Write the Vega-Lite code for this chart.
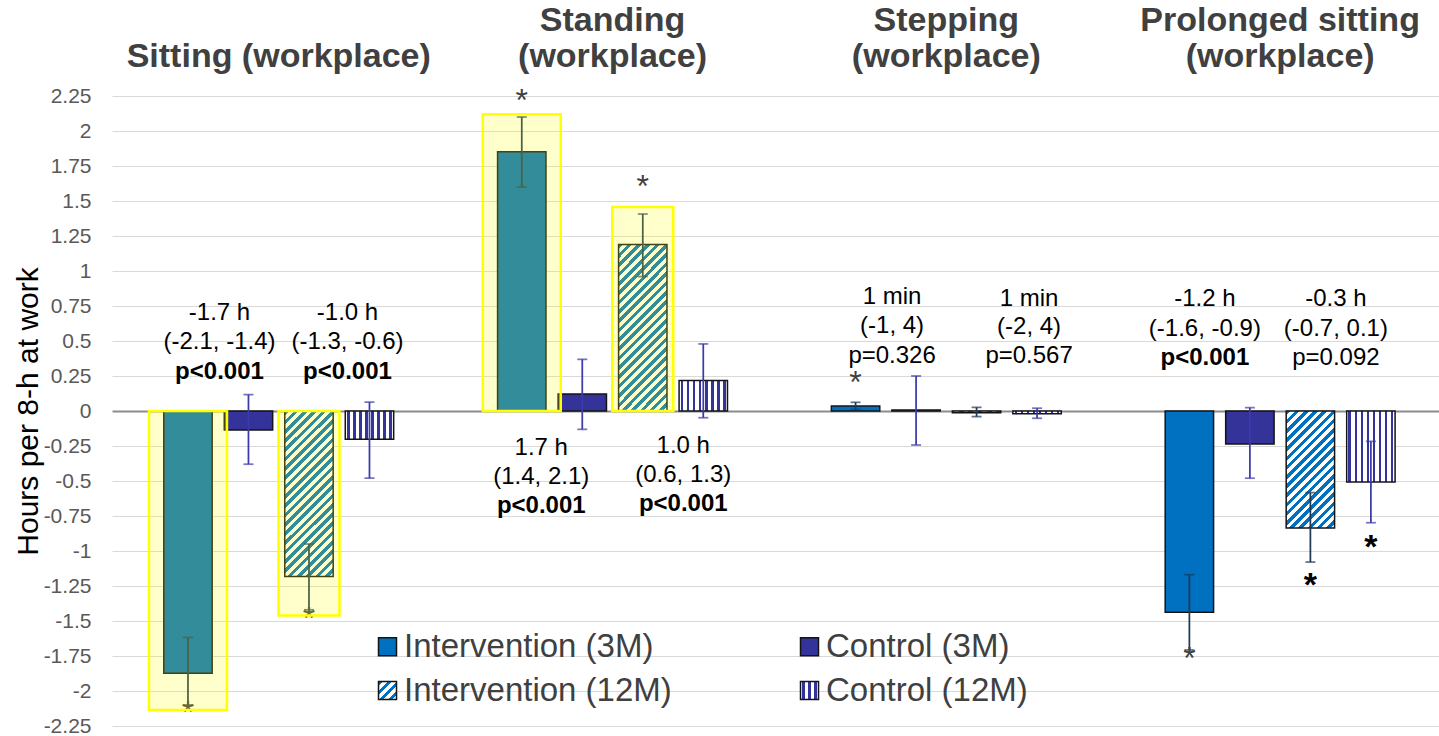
{
  "$schema": "https://vega.github.io/schema/vega-lite/v6.json",
  "autosize": "none",
  "width": 1327,
  "height": 630,
  "padding": {"left": 112, "top": 96, "right": 0, "bottom": 10},
  "config": {
    "font": "Liberation Sans",
    "view": {"stroke": null},
    "axis": {"domain": false, "ticks": false, "tickSize": 0}
  },
  "datasets": {
    "bars": [
      {"group": "Sitting (workplace)", "series": "Intervention (3M)", "value": -1.874, "lo": -2.1, "hi": -1.617, "star": -2.093, "hl": -2.136},
      {"group": "Sitting (workplace)", "series": "Control (3M)", "value": -0.136, "lo": -0.38, "hi": 0.117},
      {"group": "Sitting (workplace)", "series": "Intervention (12M)", "value": -1.183, "lo": -1.42, "hi": -0.95, "star": -1.421, "hl": -1.46},
      {"group": "Sitting (workplace)", "series": "Control (12M)", "value": -0.202, "lo": -0.48, "hi": 0.064},
      {"group": "Standing (workplace)", "series": "Intervention (3M)", "value": 1.852, "lo": 1.6, "hi": 2.1, "star": 2.281, "hl": 2.12},
      {"group": "Standing (workplace)", "series": "Control (3M)", "value": 0.121, "lo": -0.131, "hi": 0.369},
      {"group": "Standing (workplace)", "series": "Intervention (12M)", "value": 1.19, "lo": 0.96, "hi": 1.407, "star": 1.662, "hl": 1.457},
      {"group": "Standing (workplace)", "series": "Control (12M)", "value": 0.217, "lo": -0.048, "hi": 0.479},
      {"group": "Stepping (workplace)", "series": "Intervention (3M)", "value": 0.036, "lo": 0.01, "hi": 0.062, "star": 0.264},
      {"group": "Stepping (workplace)", "series": "Control (3M)", "value": 0.007, "lo": -0.243, "hi": 0.25},
      {"group": "Stepping (workplace)", "series": "Intervention (12M)", "value": -0.012, "lo": -0.04, "hi": 0.026},
      {"group": "Stepping (workplace)", "series": "Control (12M)", "value": -0.019, "lo": -0.052, "hi": 0.02},
      {"group": "Prolonged sitting (workplace)", "series": "Intervention (3M)", "value": -1.438, "lo": -1.707, "hi": -1.169, "star": -1.707},
      {"group": "Prolonged sitting (workplace)", "series": "Control (3M)", "value": -0.236, "lo": -0.48, "hi": 0.024},
      {"group": "Prolonged sitting (workplace)", "series": "Intervention (12M)", "value": -0.836, "lo": -1.079, "hi": -0.583, "star": -1.176},
      {"group": "Prolonged sitting (workplace)", "series": "Control (12M)", "value": -0.507, "lo": -0.798, "hi": -0.217, "star": -0.909}
    ],
    "notes": [
      {"group": "Sitting (workplace)", "series": "Control (3M)", "text": "-1.7 h", "ty": 0.65},
      {"group": "Sitting (workplace)", "series": "Control (3M)", "text": "(-2.1, -1.4)", "ty": 0.443},
      {"group": "Sitting (workplace)", "series": "Control (3M)", "text": "p<0.001", "ty": 0.229},
      {"group": "Sitting (workplace)", "series": "Control (12M)", "text": "-1.0 h", "ty": 0.647},
      {"group": "Sitting (workplace)", "series": "Control (12M)", "text": "(-1.3, -0.6)", "ty": 0.44},
      {"group": "Sitting (workplace)", "series": "Control (12M)", "text": "p<0.001", "ty": 0.226},
      {"group": "Standing (workplace)", "series": "Control (3M)", "text": "1.7 h", "ty": -0.314},
      {"group": "Standing (workplace)", "series": "Control (3M)", "text": "(1.4, 2.1)", "ty": -0.521},
      {"group": "Standing (workplace)", "series": "Control (3M)", "text": "p<0.001", "ty": -0.726},
      {"group": "Standing (workplace)", "series": "Control (12M)", "text": "1.0 h", "ty": -0.298},
      {"group": "Standing (workplace)", "series": "Control (12M)", "text": "(0.6, 1.3)", "ty": -0.505},
      {"group": "Standing (workplace)", "series": "Control (12M)", "text": "p<0.001", "ty": -0.712},
      {"group": "Stepping (workplace)", "series": "Control (3M)", "text": "1 min", "ty": 0.764},
      {"group": "Stepping (workplace)", "series": "Control (3M)", "text": "(-1, 4)", "ty": 0.555},
      {"group": "Stepping (workplace)", "series": "Control (3M)", "text": "p=0.326", "ty": 0.345},
      {"group": "Stepping (workplace)", "series": "Control (12M)", "text": "1 min", "ty": 0.75},
      {"group": "Stepping (workplace)", "series": "Control (12M)", "text": "(-2, 4)", "ty": 0.55},
      {"group": "Stepping (workplace)", "series": "Control (12M)", "text": "p=0.567", "ty": 0.34},
      {"group": "Prolonged sitting (workplace)", "series": "Control (3M)", "text": "-1.2 h", "ty": 0.75},
      {"group": "Prolonged sitting (workplace)", "series": "Control (3M)", "text": "(-1.6, -0.9)", "ty": 0.536},
      {"group": "Prolonged sitting (workplace)", "series": "Control (3M)", "text": "p<0.001", "ty": 0.329},
      {"group": "Prolonged sitting (workplace)", "series": "Control (12M)", "text": "-0.3 h", "ty": 0.75},
      {"group": "Prolonged sitting (workplace)", "series": "Control (12M)", "text": "(-0.7, 0.1)", "ty": 0.536},
      {"group": "Prolonged sitting (workplace)", "series": "Control (12M)", "text": "p=0.092", "ty": 0.329}
    ]
  },
  "data": {"name": "bars"},
  "encoding": {
    "x": {
      "field": "group",
      "type": "nominal",
      "sort": ["Sitting (workplace)", "Standing (workplace)", "Stepping (workplace)", "Prolonged sitting (workplace)"],
      "scale": {"paddingInner": 0.275, "paddingOuter": 0.1252, "align": 0.547},
      "axis": {
        "orient": "top",
        "title": null,
        "labelFontSize": 34,
        "labelFontWeight": "bold",
        "labelColor": "#404040",
        "labelPadding": 93,
        "labelBaseline": "top",
        "labelLineHeight": 36,
        "labelLimit": 0,
        "labelAngle": 0,
        "labelExpr": "indexof(datum.value, 'Sitting (') === 0 ? ['', datum.value] : split(replace(datum.value, ' (', '|('), '|')",
        "grid": false,
        "domain": false,
        "ticks": false
      }
    },
    "xOffset": {
      "field": "series",
      "type": "nominal",
      "sort": ["Intervention (3M)", "Control (3M)", "Intervention (12M)", "Control (12M)"],
      "scale": {"paddingInner": 0.2, "paddingOuter": 0.1}
    }
  },
  "layer": [
    {
      "mark": {"type": "bar", "stroke": "#141414", "strokeWidth": 1.5},
      "encoding": {
        "y": {
          "field": "value",
          "type": "quantitative",
          "title": "Hours  per 8-h at work",
          "scale": {"domain": [-2.25, 2.25], "nice": false, "zero": false},
          "axis": {
            "values": [-2.25, -2, -1.75, -1.5, -1.25, -1, -0.75, -0.5, -0.25, 0, 0.25, 0.5, 0.75, 1, 1.25, 1.5, 1.75, 2, 2.25],
            "tickCount": 19,
            "labelExpr": "'' + datum.value",
            "labelFontSize": 21,
            "labelColor": "#595959",
            "labelPadding": 21,
            "labelFlush": false,
            "labelOverlap": false,
            "gridColor": {"condition": {"test": "datum.value === 0", "value": "#8C8C8C"}, "value": "#D9D9D9"},
            "gridWidth": {"condition": {"test": "datum.value === 0", "value": 2}, "value": 1},
            "titleFontSize": 30,
            "titleFontWeight": "normal",
            "titleColor": "#000000",
            "titleAngle": -90,
            "titleAlign": "center",
            "titleBaseline": "alphabetic",
            "titleX": -75,
            "titleY": 315
          }
        },
        "y2": {"datum": 0},
        "fill": {
          "field": "series",
          "type": "nominal",
          "scale": {
            "domain": ["Intervention (3M)", "Control (3M)", "Intervention (12M)", "Control (12M)"],
            "range": [
              "#0070C0",
              "#333399",
              {"expr": "{gradient: 'linear', x1: 0, y1: 0, x2: 1, y2: 1, stops: [{offset: 0, color: '#0070C0'}, {offset: 0.125, color: '#0070C0'}, {offset: 0.125, color: '#fff'}, {offset: 0.25, color: '#fff'}, {offset: 0.25, color: '#0070C0'}, {offset: 0.375, color: '#0070C0'}, {offset: 0.375, color: '#fff'}, {offset: 0.5, color: '#fff'}, {offset: 0.5, color: '#0070C0'}, {offset: 0.625, color: '#0070C0'}, {offset: 0.625, color: '#fff'}, {offset: 0.75, color: '#fff'}, {offset: 0.75, color: '#0070C0'}, {offset: 0.875, color: '#0070C0'}, {offset: 0.875, color: '#fff'}, {offset: 1, color: '#fff'}]}"},
              {"expr": "{gradient: 'linear', x1: 0, y1: 0, x2: 1, y2: 0, stops: [{offset: 0, color: '#fff'}, {offset: 0.1, color: '#fff'}, {offset: 0.1, color: '#333399'}, {offset: 0.2333, color: '#333399'}, {offset: 0.2333, color: '#fff'}, {offset: 0.4333, color: '#fff'}, {offset: 0.4333, color: '#333399'}, {offset: 0.5667, color: '#333399'}, {offset: 0.5667, color: '#fff'}, {offset: 0.7667, color: '#fff'}, {offset: 0.7667, color: '#333399'}, {offset: 0.9, color: '#333399'}, {offset: 0.9, color: '#fff'}, {offset: 1, color: '#fff'}]}"}
            ]
          },
          "condition": [
            {
              "test": "datum.series === 'Intervention (12M)' && datum.group === 'Prolonged sitting (workplace)'",
              "value": {
                "gradient": "linear", "x1": 0, "y1": 0, "x2": 0.4994, "y2": 1.2072,
                "stops": [
                  {"offset": 0, "color": "#0070C0"}, {"offset": 0.0278, "color": "#0070C0"}, {"offset": 0.0278, "color": "#fff"}, {"offset": 0.0556, "color": "#fff"},
                  {"offset": 0.0556, "color": "#0070C0"}, {"offset": 0.0833, "color": "#0070C0"}, {"offset": 0.0833, "color": "#fff"}, {"offset": 0.1111, "color": "#fff"},
                  {"offset": 0.1111, "color": "#0070C0"}, {"offset": 0.1389, "color": "#0070C0"}, {"offset": 0.1389, "color": "#fff"}, {"offset": 0.1667, "color": "#fff"},
                  {"offset": 0.1667, "color": "#0070C0"}, {"offset": 0.1944, "color": "#0070C0"}, {"offset": 0.1944, "color": "#fff"}, {"offset": 0.2222, "color": "#fff"},
                  {"offset": 0.2222, "color": "#0070C0"}, {"offset": 0.25, "color": "#0070C0"}, {"offset": 0.25, "color": "#fff"}, {"offset": 0.2778, "color": "#fff"},
                  {"offset": 0.2778, "color": "#0070C0"}, {"offset": 0.3056, "color": "#0070C0"}, {"offset": 0.3056, "color": "#fff"}, {"offset": 0.3333, "color": "#fff"},
                  {"offset": 0.3333, "color": "#0070C0"}, {"offset": 0.3611, "color": "#0070C0"}, {"offset": 0.3611, "color": "#fff"}, {"offset": 0.3889, "color": "#fff"},
                  {"offset": 0.3889, "color": "#0070C0"}, {"offset": 0.4167, "color": "#0070C0"}, {"offset": 0.4167, "color": "#fff"}, {"offset": 0.4444, "color": "#fff"},
                  {"offset": 0.4444, "color": "#0070C0"}, {"offset": 0.4722, "color": "#0070C0"}, {"offset": 0.4722, "color": "#fff"}, {"offset": 0.5, "color": "#fff"},
                  {"offset": 0.5, "color": "#0070C0"}, {"offset": 0.5278, "color": "#0070C0"}, {"offset": 0.5278, "color": "#fff"}, {"offset": 0.5556, "color": "#fff"},
                  {"offset": 0.5556, "color": "#0070C0"}, {"offset": 0.5833, "color": "#0070C0"}, {"offset": 0.5833, "color": "#fff"}, {"offset": 0.6111, "color": "#fff"},
                  {"offset": 0.6111, "color": "#0070C0"}, {"offset": 0.6389, "color": "#0070C0"}, {"offset": 0.6389, "color": "#fff"}, {"offset": 0.6667, "color": "#fff"},
                  {"offset": 0.6667, "color": "#0070C0"}, {"offset": 0.6944, "color": "#0070C0"}, {"offset": 0.6944, "color": "#fff"}, {"offset": 0.7222, "color": "#fff"},
                  {"offset": 0.7222, "color": "#0070C0"}, {"offset": 0.75, "color": "#0070C0"}, {"offset": 0.75, "color": "#fff"}, {"offset": 0.7778, "color": "#fff"},
                  {"offset": 0.7778, "color": "#0070C0"}, {"offset": 0.8056, "color": "#0070C0"}, {"offset": 0.8056, "color": "#fff"}, {"offset": 0.8333, "color": "#fff"},
                  {"offset": 0.8333, "color": "#0070C0"}, {"offset": 0.8611, "color": "#0070C0"}, {"offset": 0.8611, "color": "#fff"}, {"offset": 0.8889, "color": "#fff"},
                  {"offset": 0.8889, "color": "#0070C0"}, {"offset": 0.9167, "color": "#0070C0"}, {"offset": 0.9167, "color": "#fff"}, {"offset": 0.9444, "color": "#fff"},
                  {"offset": 0.9444, "color": "#0070C0"}, {"offset": 0.9722, "color": "#0070C0"}, {"offset": 0.9722, "color": "#fff"}, {"offset": 1, "color": "#fff"}
                ]
              }
            },
            {
              "test": "datum.series === 'Intervention (12M)'",
              "value": {
                "gradient": "linear", "x1": 0, "y1": 0, "x2": 0.3471, "y2": 1.1904,
                "stops": [
                  {"offset": 0, "color": "#0070C0"}, {"offset": 0.0217, "color": "#0070C0"}, {"offset": 0.0217, "color": "#fff"}, {"offset": 0.0435, "color": "#fff"},
                  {"offset": 0.0435, "color": "#0070C0"}, {"offset": 0.0652, "color": "#0070C0"}, {"offset": 0.0652, "color": "#fff"}, {"offset": 0.087, "color": "#fff"},
                  {"offset": 0.087, "color": "#0070C0"}, {"offset": 0.1087, "color": "#0070C0"}, {"offset": 0.1087, "color": "#fff"}, {"offset": 0.1304, "color": "#fff"},
                  {"offset": 0.1304, "color": "#0070C0"}, {"offset": 0.1522, "color": "#0070C0"}, {"offset": 0.1522, "color": "#fff"}, {"offset": 0.1739, "color": "#fff"},
                  {"offset": 0.1739, "color": "#0070C0"}, {"offset": 0.1957, "color": "#0070C0"}, {"offset": 0.1957, "color": "#fff"}, {"offset": 0.2174, "color": "#fff"},
                  {"offset": 0.2174, "color": "#0070C0"}, {"offset": 0.2391, "color": "#0070C0"}, {"offset": 0.2391, "color": "#fff"}, {"offset": 0.2609, "color": "#fff"},
                  {"offset": 0.2609, "color": "#0070C0"}, {"offset": 0.2826, "color": "#0070C0"}, {"offset": 0.2826, "color": "#fff"}, {"offset": 0.3043, "color": "#fff"},
                  {"offset": 0.3043, "color": "#0070C0"}, {"offset": 0.3261, "color": "#0070C0"}, {"offset": 0.3261, "color": "#fff"}, {"offset": 0.3478, "color": "#fff"},
                  {"offset": 0.3478, "color": "#0070C0"}, {"offset": 0.3696, "color": "#0070C0"}, {"offset": 0.3696, "color": "#fff"}, {"offset": 0.3913, "color": "#fff"},
                  {"offset": 0.3913, "color": "#0070C0"}, {"offset": 0.413, "color": "#0070C0"}, {"offset": 0.413, "color": "#fff"}, {"offset": 0.4348, "color": "#fff"},
                  {"offset": 0.4348, "color": "#0070C0"}, {"offset": 0.4565, "color": "#0070C0"}, {"offset": 0.4565, "color": "#fff"}, {"offset": 0.4783, "color": "#fff"},
                  {"offset": 0.4783, "color": "#0070C0"}, {"offset": 0.5, "color": "#0070C0"}, {"offset": 0.5, "color": "#fff"}, {"offset": 0.5217, "color": "#fff"},
                  {"offset": 0.5217, "color": "#0070C0"}, {"offset": 0.5435, "color": "#0070C0"}, {"offset": 0.5435, "color": "#fff"}, {"offset": 0.5652, "color": "#fff"},
                  {"offset": 0.5652, "color": "#0070C0"}, {"offset": 0.587, "color": "#0070C0"}, {"offset": 0.587, "color": "#fff"}, {"offset": 0.6087, "color": "#fff"},
                  {"offset": 0.6087, "color": "#0070C0"}, {"offset": 0.6304, "color": "#0070C0"}, {"offset": 0.6304, "color": "#fff"}, {"offset": 0.6522, "color": "#fff"},
                  {"offset": 0.6522, "color": "#0070C0"}, {"offset": 0.6739, "color": "#0070C0"}, {"offset": 0.6739, "color": "#fff"}, {"offset": 0.6957, "color": "#fff"},
                  {"offset": 0.6957, "color": "#0070C0"}, {"offset": 0.7174, "color": "#0070C0"}, {"offset": 0.7174, "color": "#fff"}, {"offset": 0.7391, "color": "#fff"},
                  {"offset": 0.7391, "color": "#0070C0"}, {"offset": 0.7609, "color": "#0070C0"}, {"offset": 0.7609, "color": "#fff"}, {"offset": 0.7826, "color": "#fff"},
                  {"offset": 0.7826, "color": "#0070C0"}, {"offset": 0.8043, "color": "#0070C0"}, {"offset": 0.8043, "color": "#fff"}, {"offset": 0.8261, "color": "#fff"},
                  {"offset": 0.8261, "color": "#0070C0"}, {"offset": 0.8478, "color": "#0070C0"}, {"offset": 0.8478, "color": "#fff"}, {"offset": 0.8696, "color": "#fff"},
                  {"offset": 0.8696, "color": "#0070C0"}, {"offset": 0.8913, "color": "#0070C0"}, {"offset": 0.8913, "color": "#fff"}, {"offset": 0.913, "color": "#fff"},
                  {"offset": 0.913, "color": "#0070C0"}, {"offset": 0.9348, "color": "#0070C0"}, {"offset": 0.9348, "color": "#fff"}, {"offset": 0.9565, "color": "#fff"},
                  {"offset": 0.9565, "color": "#0070C0"}, {"offset": 0.9783, "color": "#0070C0"}, {"offset": 0.9783, "color": "#fff"}, {"offset": 1, "color": "#fff"}
                ]
              }
            },
            {
              "test": "datum.series === 'Control (12M)'",
              "value": {
                "gradient": "linear", "x1": 0, "y1": 0, "x2": 1, "y2": 0,
                "stops": [
                  {"offset": 0, "color": "#fff"},
                  {"offset": 0.0375, "color": "#fff"}, {"offset": 0.0375, "color": "#333399"}, {"offset": 0.0875, "color": "#333399"}, {"offset": 0.0875, "color": "#fff"},
                  {"offset": 0.1625, "color": "#fff"}, {"offset": 0.1625, "color": "#333399"}, {"offset": 0.2125, "color": "#333399"}, {"offset": 0.2125, "color": "#fff"},
                  {"offset": 0.2875, "color": "#fff"}, {"offset": 0.2875, "color": "#333399"}, {"offset": 0.3375, "color": "#333399"}, {"offset": 0.3375, "color": "#fff"},
                  {"offset": 0.4125, "color": "#fff"}, {"offset": 0.4125, "color": "#333399"}, {"offset": 0.4625, "color": "#333399"}, {"offset": 0.4625, "color": "#fff"},
                  {"offset": 0.5375, "color": "#fff"}, {"offset": 0.5375, "color": "#333399"}, {"offset": 0.5875, "color": "#333399"}, {"offset": 0.5875, "color": "#fff"},
                  {"offset": 0.6625, "color": "#fff"}, {"offset": 0.6625, "color": "#333399"}, {"offset": 0.7125, "color": "#333399"}, {"offset": 0.7125, "color": "#fff"},
                  {"offset": 0.7875, "color": "#fff"}, {"offset": 0.7875, "color": "#333399"}, {"offset": 0.8375, "color": "#333399"}, {"offset": 0.8375, "color": "#fff"},
                  {"offset": 0.9125, "color": "#fff"}, {"offset": 0.9125, "color": "#333399"}, {"offset": 0.9625, "color": "#333399"}, {"offset": 0.9625, "color": "#fff"},
                  {"offset": 1, "color": "#fff"}
                ]
              }
            }
          ],
          "legend": {
            "title": null,
            "orient": "none",
            "legendX": 259,
            "legendY": 534,
            "direction": "horizontal",
            "columns": 2,
            "columnPadding": 121,
            "rowPadding": 10,
            "padding": 0,
            "symbolType": "square",
            "symbolSize": 324,
            "symbolStrokeColor": "#141414",
            "symbolStrokeWidth": 1.5,
            "labelFontSize": 33,
            "labelColor": "#404040",
            "labelOffset": 0,
            "labelLimit": 0
          }
        }
      }
    },
    {
      "mark": {"type": "rule", "strokeWidth": 1.75},
      "encoding": {
        "y": {"field": "lo", "type": "quantitative", "title": "Hours  per 8-h at work", "scale": {"domain": [-2.25, 2.25], "nice": false, "zero": false}},
        "y2": {"field": "hi"},
        "color": {"condition": {"test": "indexof(datum.series, 'Control') === 0", "value": "#3B3BAA"}, "value": "#203A56"}
      }
    },
    {
      "mark": {"type": "tick", "orient": "horizontal", "size": 10, "thickness": 1.75},
      "encoding": {
        "y": {"field": "lo", "type": "quantitative", "title": "Hours  per 8-h at work", "scale": {"domain": [-2.25, 2.25], "nice": false, "zero": false}},
        "color": {"condition": {"test": "indexof(datum.series, 'Control') === 0", "value": "#3B3BAA"}, "value": "#203A56"}
      }
    },
    {
      "mark": {"type": "tick", "orient": "horizontal", "size": 10, "thickness": 1.75},
      "encoding": {
        "y": {"field": "hi", "type": "quantitative", "title": "Hours  per 8-h at work", "scale": {"domain": [-2.25, 2.25], "nice": false, "zero": false}},
        "color": {"condition": {"test": "indexof(datum.series, 'Control') === 0", "value": "#3B3BAA"}, "value": "#203A56"}
      }
    },
    {
      "transform": [{"filter": "datum.star != null && !(datum.group === 'Prolonged sitting (workplace)' && indexof(datum.series, '12M') >= 0)"}],
      "mark": {"type": "text", "fontSize": 32, "color": "#404040", "baseline": "alphabetic", "align": "center", "dy": 19},
      "encoding": {
        "y": {"field": "star", "type": "quantitative", "title": "Hours  per 8-h at work", "scale": {"domain": [-2.25, 2.25], "nice": false, "zero": false}},
        "text": {"value": "*"}
      }
    },
    {
      "transform": [{"filter": "datum.star != null && datum.group === 'Prolonged sitting (workplace)' && indexof(datum.series, '12M') >= 0"}],
      "mark": {"type": "text", "fontSize": 34, "fontWeight": "bold", "color": "#000000", "baseline": "alphabetic", "align": "center", "dy": 20},
      "encoding": {
        "y": {"field": "star", "type": "quantitative", "title": "Hours  per 8-h at work", "scale": {"domain": [-2.25, 2.25], "nice": false, "zero": false}},
        "text": {"value": "*"}
      }
    },
    {
      "transform": [{"filter": "datum.hl != null && datum.series === 'Intervention (3M)'"}],
      "mark": {"type": "bar", "width": 78, "fill": "#FFFF00", "fillOpacity": 0.2, "stroke": "#FFFF00", "strokeWidth": 2.5},
      "encoding": {
        "y": {"field": "hl", "type": "quantitative", "title": "Hours  per 8-h at work", "scale": {"domain": [-2.25, 2.25], "nice": false, "zero": false}},
        "y2": {"datum": 0}
      }
    },
    {
      "transform": [{"filter": "datum.hl != null && datum.series === 'Intervention (12M)'"}],
      "mark": {"type": "bar", "width": 61, "fill": "#FFFF00", "fillOpacity": 0.2, "stroke": "#FFFF00", "strokeWidth": 2.5},
      "encoding": {
        "y": {"field": "hl", "type": "quantitative", "title": "Hours  per 8-h at work", "scale": {"domain": [-2.25, 2.25], "nice": false, "zero": false}},
        "y2": {"datum": 0}
      }
    },
    {
      "data": {"name": "notes"},
      "mark": {
        "type": "text",
        "fontSize": 24,
        "color": "#000000",
        "baseline": "alphabetic",
        "align": "center",
        "fontWeight": {"expr": "indexof(datum.text, 'p<') === 0 ? 'bold' : 'normal'"},
        "dx": {"expr": "datum.group === 'Sitting (workplace)' ? (datum.series === 'Control (3M)' ? -29 : -22) : datum.group === 'Standing (workplace)' ? (datum.series === 'Control (3M)' ? -41 : -20) : datum.group === 'Stepping (workplace)' ? (datum.series === 'Control (3M)' ? -24 : -8) : (datum.series === 'Control (3M)' ? -45 : -35)"}
      },
      "encoding": {
        "y": {"field": "ty", "type": "quantitative", "title": "Hours  per 8-h at work", "scale": {"domain": [-2.25, 2.25], "nice": false, "zero": false}},
        "text": {"field": "text"}
      }
    }
  ]
}
